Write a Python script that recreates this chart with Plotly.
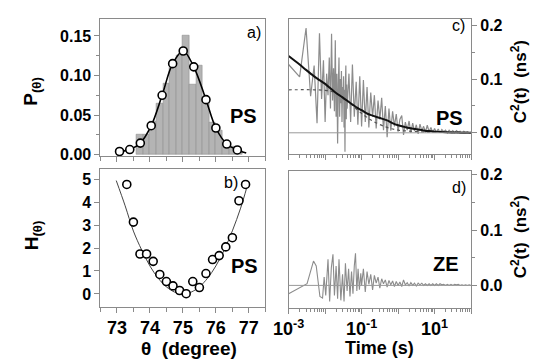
import plotly.graph_objects as go

# ---------------- panel a: histogram + distribution ----------------
hist_theta = [73.7, 73.9, 74.1, 74.3, 74.5, 74.7, 74.9, 75.1, 75.3, 75.5,
              75.7, 75.9, 76.1, 76.3, 76.5, 76.7]
hist_p = [0.026, 0.026, 0.042, 0.065, 0.090, 0.110, 0.125, 0.150, 0.089, 0.113,
          0.070, 0.040, 0.030, 0.016, 0.010, 0.005]

circ_theta = [73.08, 73.39, 73.71, 74.04, 74.37, 74.69, 75.01, 75.33, 75.70,
              76.00, 76.33, 76.65]
circ_p = [0.004, 0.0065, 0.0146, 0.0366, 0.075, 0.115, 0.131, 0.111, 0.0695,
          0.0337, 0.0134, 0.006]
line_theta = circ_theta + [76.92]
line_p = circ_p + [0.002]

# ---------------- panel b: free energy ----------------
h_theta = [73.3, 73.5, 73.7, 73.9, 74.1, 74.3, 74.5, 74.7, 74.9, 75.1,
           75.3, 75.5, 75.7, 75.9, 76.1, 76.3, 76.5, 76.7, 76.9]
h_val = [4.77, 3.13, 1.74, 1.74, 1.42, 0.85, 0.54, 0.35, 0.15, 0.01,
         0.54, 0.28, 0.89, 1.50, 1.67, 2.05, 2.45, 4.06, 4.77]
hfit_theta = [72.98, 73.25, 73.5, 73.75, 74.0, 74.25, 74.5, 74.75, 75.0,
              75.25, 75.5, 75.75, 76.0, 76.25, 76.5, 76.75, 76.94]
hfit_val = [4.94, 3.84, 2.74, 1.92, 1.22, 0.69, 0.31, 0.08, 0.0,
            0.08, 0.31, 0.69, 1.22, 1.91, 2.75, 3.74, 4.65]

# ---------------- panel c: PS correlation ----------------
t_early = [0.001, 0.002, 0.003, 0.004, 0.005, 0.006, 0.007, 0.008, 0.009, 0.010,
           0.011, 0.012, 0.013, 0.014, 0.015, 0.016, 0.017, 0.018, 0.019, 0.020,
           0.021, 0.022, 0.023, 0.024, 0.025, 0.026, 0.027, 0.028, 0.029, 0.030,
           0.031, 0.032, 0.033, 0.034, 0.035, 0.036, 0.037, 0.038, 0.039, 0.040]
c_early = [0.127, 0.104, 0.195, 0.068, 0.125, 0.018, 0.185, 0.063, 0.135, 0.020,
           0.110, 0.070, 0.140, 0.045, 0.184, 0.060, 0.120, 0.040, 0.172, 0.030,
           0.110, -0.020, 0.090, 0.140, 0.030, 0.100, 0.055, 0.115, 0.020, 0.085,
           0.060, 0.105, 0.010, 0.080, -0.035, 0.095, 0.125, 0.025, 0.090, 0.045]
t_mid = [0.045, 0.050, 0.056, 0.063, 0.071, 0.079, 0.089]
c_mid = [0.110, 0.020, 0.127, 0.030, 0.095, 0.015, 0.105]
t_tail = [0.100, 0.112, 0.126, 0.141, 0.158, 0.178, 0.200, 0.224, 0.251, 0.282,
          0.316, 0.355, 0.398, 0.447, 0.501, 0.562, 0.631, 0.708, 0.794, 0.891,
          1.00, 1.12, 1.26, 1.41, 1.58, 1.78, 2.00, 2.24, 2.51, 2.82,
          3.16, 3.55, 3.98, 4.47, 5.01, 5.62, 6.31, 7.08, 7.94, 8.91,
          10.0, 11.2, 12.6, 14.1, 15.8, 17.8, 20.0, 22.4, 25.1, 28.2,
          31.6, 35.5, 39.8, 44.7, 50.1, 56.2, 63.1, 70.8, 79.4, 89.1, 100.0]
c_tail = [0.012, 0.098, 0.020, 0.085, 0.010, 0.075, 0.030, 0.070, 0.008, 0.060,
          0.025, 0.065, 0.005, 0.050, -0.008, 0.045, 0.004, 0.040, 0.012, 0.035,
          0.002, 0.025, 0.032, -0.004, 0.020, 0.005, 0.022, 0.000, 0.018, 0.003,
          0.015, -0.002, 0.016, 0.004, 0.012, 0.001, 0.014, 0.002, 0.010, 0.000,
          0.008, 0.001, 0.007, 0.000, 0.006, 0.002, 0.005, 0.000, 0.005, 0.001,
          0.004, 0.000, 0.004, 0.001, 0.003, 0.000, 0.003, 0.001, 0.002, 0.000, 0.001]

tfit = [0.001, 0.002, 0.003, 0.005, 0.007, 0.01, 0.015, 0.02, 0.03, 0.05, 0.07,
        0.1, 0.15, 0.2, 0.3, 0.5, 0.7, 1, 1.5, 2, 3, 5, 7, 10, 20, 50, 100]
cfit = [0.143, 0.127, 0.117, 0.105, 0.098, 0.091, 0.081, 0.074, 0.066, 0.055, 0.048,
        0.042, 0.035, 0.032, 0.028, 0.023, 0.018, 0.014, 0.011, 0.009, 0.007, 0.0045,
        0.0032, 0.0022, 0.001, 0.0003, 0.0]
tdot = [0.001, 0.005, 0.01, 0.015, 0.02, 0.03, 0.05, 0.1, 0.2, 0.5, 1, 2, 5, 10, 100]
cdot = [0.080, 0.080, 0.079, 0.077, 0.073, 0.066, 0.054, 0.036, 0.022, 0.010,
        0.005, 0.003, 0.0015, 0.001, 0.0]

# ---------------- panel d: ZE correlation ----------------
t_d_early = [0.001, 0.0032, 0.0039, 0.0048, 0.0057, 0.0065, 0.0072, 0.0085,
             0.0094, 0.0104, 0.012, 0.0133, 0.0148, 0.0164, 0.018, 0.020, 0.022,
             0.024, 0.027, 0.030, 0.033, 0.036, 0.040, 0.044, 0.048, 0.053, 0.058,
             0.063, 0.068, 0.074, 0.080, 0.087, 0.095]
d_early = [-0.015, 0.003, 0.023, 0.044, 0.035, 0.006, -0.020, -0.023,
           0.015, -0.018, 0.047, -0.029, 0.032, 0.056, -0.018, 0.035, -0.024,
           0.047, -0.027, 0.020, -0.029, 0.040, -0.010, 0.030, -0.020, 0.025, -0.015,
           0.035, 0.058, -0.010, 0.030, -0.008, 0.022]
d_tail = [0.000, 0.030, -0.012, 0.025, 0.002, 0.020, -0.008, 0.018, 0.004, 0.015,
          -0.005, 0.012, 0.003, 0.010, -0.003, 0.009, 0.001, 0.008, -0.002, 0.007,
          0.000, 0.006, -0.002, 0.010, 0.001, 0.005, -0.001, 0.005, 0.000, 0.004,
          -0.001, 0.004, 0.001, 0.004, 0.000, 0.003, 0.000, 0.003, 0.000, 0.003,
          0.000, 0.003, 0.000, 0.003, 0.001, 0.002, 0.000, 0.002, 0.000, 0.002,
          0.000, 0.002, 0.001, 0.002, 0.000, 0.001, 0.000, 0.001, 0.000, 0.001, 0.000]

FONT = "Arial, Liberation Sans, sans-serif"
AX = "#8a8a8a"
W, H = 538, 364


def px(x):
    return x / W


def py(y):
    return 1 - y / H


fig = go.Figure()

# panel a
fig.add_trace(go.Bar(x=hist_theta, y=hist_p, width=0.2, marker=dict(color="#b4b4b4", line=dict(color="#8f8f8f", width=0.6)),
                     xaxis="x", yaxis="y", showlegend=False))
fig.add_trace(go.Scatter(x=line_theta, y=line_p, mode="lines", line=dict(color="black", width=1.6, shape="spline"),
                         xaxis="x", yaxis="y", showlegend=False))
fig.add_trace(go.Scatter(x=circ_theta, y=circ_p, mode="markers",
                         marker=dict(size=8, color="white", line=dict(color="black", width=1.6)),
                         xaxis="x", yaxis="y", showlegend=False))
# panel b
fig.add_trace(go.Scatter(x=hfit_theta, y=hfit_val, mode="lines", line=dict(color="#444", width=1, shape="spline"),
                         xaxis="x2", yaxis="y2", showlegend=False))
fig.add_trace(go.Scatter(x=h_theta, y=h_val, mode="markers",
                         marker=dict(size=8, color="white", line=dict(color="black", width=1.6)),
                         xaxis="x2", yaxis="y2", showlegend=False))
# panel c
fig.add_trace(go.Scatter(x=t_early + t_mid + t_tail, y=c_early + c_mid + c_tail, mode="lines",
                         line=dict(color="#8c8c8c", width=1.2), xaxis="x3", yaxis="y3", showlegend=False))
fig.add_trace(go.Scatter(x=tdot, y=cdot, mode="lines", line=dict(color="#555", width=1.2, dash="dot", shape="spline"),
                         xaxis="x3", yaxis="y3", showlegend=False))
fig.add_trace(go.Scatter(x=tfit, y=cfit, mode="lines", line=dict(color="#111", width=2.0, shape="spline"),
                         xaxis="x3", yaxis="y3", showlegend=False))
# panel d
fig.add_trace(go.Scatter(x=t_d_early + t_tail, y=d_early + d_tail, mode="lines",
                         line=dict(color="#8c8c8c", width=1.1), xaxis="x4", yaxis="y4", showlegend=False))

tickfont_y = dict(family=FONT, size=16, color="black")
tickfont_x = dict(family=FONT, size=18, color="black")
common = dict(showline=True, linecolor=AX, linewidth=1, mirror=True, showgrid=False, zeroline=False,
              ticks="outside", tickcolor=AX, ticklen=5, tickwidth=1)

xa = [px(87), px(257)]
xc = [px(281), px(469)]
logminor = [m * d for d in [1e-3, 1e-2, 1e-1, 1, 10] for m in range(2, 10)]
fig.update_layout(
    width=W, height=H, margin=dict(l=0, r=0, t=0, b=0),
    paper_bgcolor="white", plot_bgcolor="white", bargap=0,
    xaxis=dict(domain=xa, anchor="y", range=[72.5, 77.5], dtick=1, tick0=73, showticklabels=False,
               minor=dict(dtick=0.5, ticks="outside", ticklen=4, tickcolor=AX), **common),
    yaxis=dict(domain=[py(157), py(15)], anchor="x", range=[-0.002, 0.172],
               tickvals=[0, 0.05, 0.10, 0.15], ticktext=["<b>0.00</b>", "<b>0.05</b>", "<b>0.10</b>", "<b>0.15</b>"],
               tickfont=tickfont_y, minor=dict(dtick=0.025, ticks="outside", ticklen=3, tickcolor=AX), **common),
    xaxis2=dict(domain=xa, anchor="y2", range=[72.5, 77.5],
                tickvals=[73, 74, 75, 76, 77], ticktext=["<b>%d</b>" % v for v in [73, 74, 75, 76, 77]],
                tickfont=tickfont_x,
                minor=dict(dtick=0.5, ticks="outside", ticklen=4, tickcolor=AX), **common),
    yaxis2=dict(domain=[py(312), py(170)], anchor="x2", range=[-0.55, 5.45],
                tickvals=[0, 1, 2, 3, 4, 5], ticktext=["<b>%d</b>" % v for v in range(6)],
                tickfont=tickfont_y, **common),
    xaxis3=dict(domain=xc, anchor="y3", type="log", range=[-3, 2], showticklabels=False,
                tickvals=[1e-3, 1e-2, 1e-1, 1, 10, 100],
                minor=dict(ticks="outside", ticklen=3, tickcolor=AX, tickvals=logminor),
                **common),
    yaxis3=dict(domain=[py(155), py(15)], anchor="x3", side="right", range=[-0.04, 0.2125],
                tickvals=[0, 0.1, 0.2], ticktext=["<b>0.0</b>", "<b>0.1</b>", "<b>0.2</b>"],
                tickfont=tickfont_y, minor=dict(dtick=0.05, ticks="outside", ticklen=3, tickcolor=AX), **common),
    xaxis4=dict(domain=xc, anchor="y4", type="log", range=[-3, 2],
                tickvals=[1e-3, 1e-2, 1e-1, 1, 10, 100],
                ticktext=["<b>10<sup>-3</sup></b>", "", "<b>10<sup>-1</sup></b>", "", "<b>10<sup>1</sup></b>", ""],
                tickfont=tickfont_x,
                minor=dict(ticks="outside", ticklen=3, tickcolor=AX, tickvals=logminor),
                **common),
    yaxis4=dict(domain=[py(313), py(172)], anchor="x4", side="right", range=[-0.04, 0.207],
                tickvals=[0, 0.1, 0.2], ticktext=["<b>0.0</b>", "<b>0.1</b>", "<b>0.2</b>"],
                tickfont=tickfont_y, minor=dict(dtick=0.05, ticks="outside", ticklen=3, tickcolor=AX), **common),
)

# zero lines for c and d
fig.add_shape(type="line", xref="x3 domain", yref="y3", x0=0, x1=1, y0=0, y1=0,
              line=dict(color="#999", width=1), layer="above")
fig.add_shape(type="line", xref="x4 domain", yref="y4", x0=0, x1=1, y0=0, y1=0,
              line=dict(color="#999", width=1), layer="above")


def ann(x, y, text, size, bold=True, angle=0):
    fig.add_annotation(x=px(x), y=py(y), xref="paper", yref="paper", text=("<b>%s</b>" % text) if bold else text,
                       showarrow=False, textangle=angle, xanchor="center", yanchor="middle",
                       font=dict(family=FONT, size=size, color="black"))


ann(245, 29, "a)", 16, bold=False)
ann(234, 115, "PS", 20)
ann(222, 184, "b)", 16, bold=False)
ann(236, 270, "PS", 20)
ann(456, 22, "c)", 16, bold=False)
ann(447, 118, "PS", 20)
ann(457, 189, "d)", 16, bold=False)
ann(443, 268, "ZE", 20)

ann(17, 90, "P<sub>(θ)</sub>", 19, angle=-90)
ann(17, 238, "H<sub>(θ)</sub>", 19, angle=-90)
ann(518, 80, "C<sup>2</sup>(t)  (ns<sup>2</sup>)", 17, angle=-90)
ann(518, 240, "C<sup>2</sup>(t)  (ns<sup>2</sup>)", 17, angle=-90)
ann(178, 355, "θ  (degree)", 19)
ann(375, 355, "Time (s)", 18)

fig.write_html("out.html", config={"displayModeBar": False},
               post_script="document.body.style.margin='0';")
